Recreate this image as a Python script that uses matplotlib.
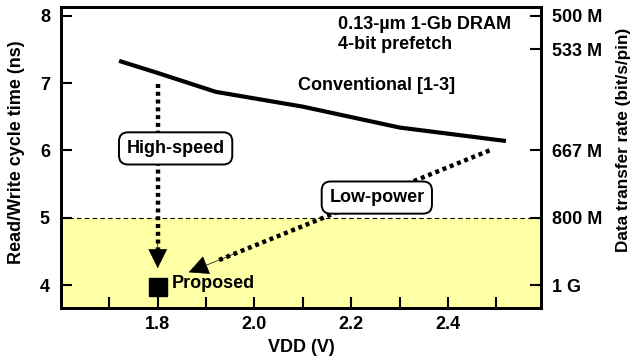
import matplotlib
matplotlib.use('Agg')
import matplotlib.pyplot as plt
import numpy as np

# conventional DRAM cycle time vs VDD
conv_vdd = [1.72, 1.80, 1.92, 2.10, 2.30, 2.52]
conv_tc = [7.33, 7.15, 6.87, 6.65, 6.34, 6.14]

prop_vdd = [1.80]
prop_tc = [3.97]

target_tc = 5.0

x_ticks = [1.7, 1.8, 1.9, 2.0, 2.1, 2.2, 2.3, 2.4, 2.5]
x_labels = ['', '1.8', '', '2.0', '', '2.2', '', '2.4', '']
y_ticks = [4, 5, 6, 7, 8]
rate_ticks = [8, 7.5, 6, 5, 4]
rate_labels = ['500 M', '533 M', '667 M', '800 M', '1 G']

# arrows: (start, tip)
hs_start, hs_tip = (1.80, 6.98), (1.80, 4.25)
lp_start, lp_tip = (2.486, 6.0), (1.864, 4.19)

plt.rcParams['font.family'] = ['Liberation Sans', 'DejaVu Sans']
plt.rcParams['font.weight'] = 'bold'

fs = 13

fig = plt.figure(figsize=(6.31, 3.6), dpi=100)
ax = fig.add_axes([0.0967, 0.1444, 0.7603, 0.8362])
xlim = (1.6, 2.592)
ylim = (3.66, 8.13)
ax.set_xlim(xlim)
ax.set_ylim(ylim)

ax.axhspan(ylim[0], target_tc, color='#FFFFA6', zorder=0, lw=0)
ax.axhline(target_tc, color='k', lw=0.8, ls=(0, (4, 3)), zorder=1)

ax.plot(conv_vdd, conv_tc, color='k', lw=3, solid_capstyle='butt', zorder=3)
ax.plot(prop_vdd, prop_tc, 's', color='k', ms=12.5, zorder=4)


def dotted_arrow(start, tip):
    s = np.array(start)
    t = np.array(tip)
    # stop the dotted line a bit before the tip, head does the rest
    d = t - s
    base = s + d * 0.9
    ax.plot([s[0], base[0]], [s[1], base[1]], color='k', lw=3.2,
            ls=(0, (0.9, 0.85)), solid_capstyle='butt', zorder=3)
    ax.annotate('', xy=tip, xytext=tuple(s + d * 0.85),
                arrowprops=dict(arrowstyle='-|>,head_length=0.65,head_width=0.32',
                                color='k', lw=0.5, mutation_scale=20,
                                shrinkA=0, shrinkB=0),
                zorder=4)


dotted_arrow(hs_start, hs_tip)
dotted_arrow(lp_start, lp_tip)

box = dict(boxstyle='round,pad=0.42,rounding_size=0.5', fc='white', ec='k', lw=1.4)
ax.text(1.837, 6.03, 'High-speed', ha='center', va='center', fontsize=fs,
        fontweight='bold', bbox=box, zorder=5)
ax.text(2.253, 5.30, 'Low-power', ha='center', va='center', fontsize=fs,
        fontweight='bold', bbox=box, zorder=5)
ax.text(1.83, 4.03, 'Proposed', ha='left', va='center', fontsize=fs,
        fontweight='bold', zorder=5)
ax.text(2.253, 6.96, 'Conventional [1-3]', ha='center', va='center', fontsize=fs,
        fontweight='bold')
ax.text(2.172, 7.87, '0.13-\u00b5m 1-Gb DRAM', ha='left', va='center', fontsize=fs,
        fontweight='bold')
ax.text(2.172, 7.58, '4-bit prefetch', ha='left', va='center', fontsize=fs,
        fontweight='bold')

ax.set_xticks(x_ticks)
ax.set_xticklabels(x_labels)
ax.set_yticks(y_ticks)
ax.tick_params(direction='in', length=8, width=1.5, labelsize=fs, pad=6)
ax.tick_params(axis='y', pad=8)
for s in ax.spines.values():
    s.set_linewidth(2)

ax.set_xlabel('VDD (V)', fontsize=fs, fontweight='bold', labelpad=4)
ax.set_ylabel('Read/Write cycle time (ns)', fontsize=fs, fontweight='bold')
ax.yaxis.set_label_coords(-0.075, 0.518)

ax2 = ax.twinx()
ax2.set_ylim(ylim)
ax2.set_yticks(rate_ticks)
ax2.set_yticklabels(rate_labels)
ax2.tick_params(direction='in', length=8, width=1.5, labelsize=fs, pad=8)
for s in ax2.spines.values():
    s.set_linewidth(2)
ax2.set_ylabel('Data transfer rate (bit/s/pin)', fontsize=12.3, fontweight='bold')
ax2.yaxis.set_label_coords(1.157, 0.558)

fig.savefig('out.png', dpi=100)
